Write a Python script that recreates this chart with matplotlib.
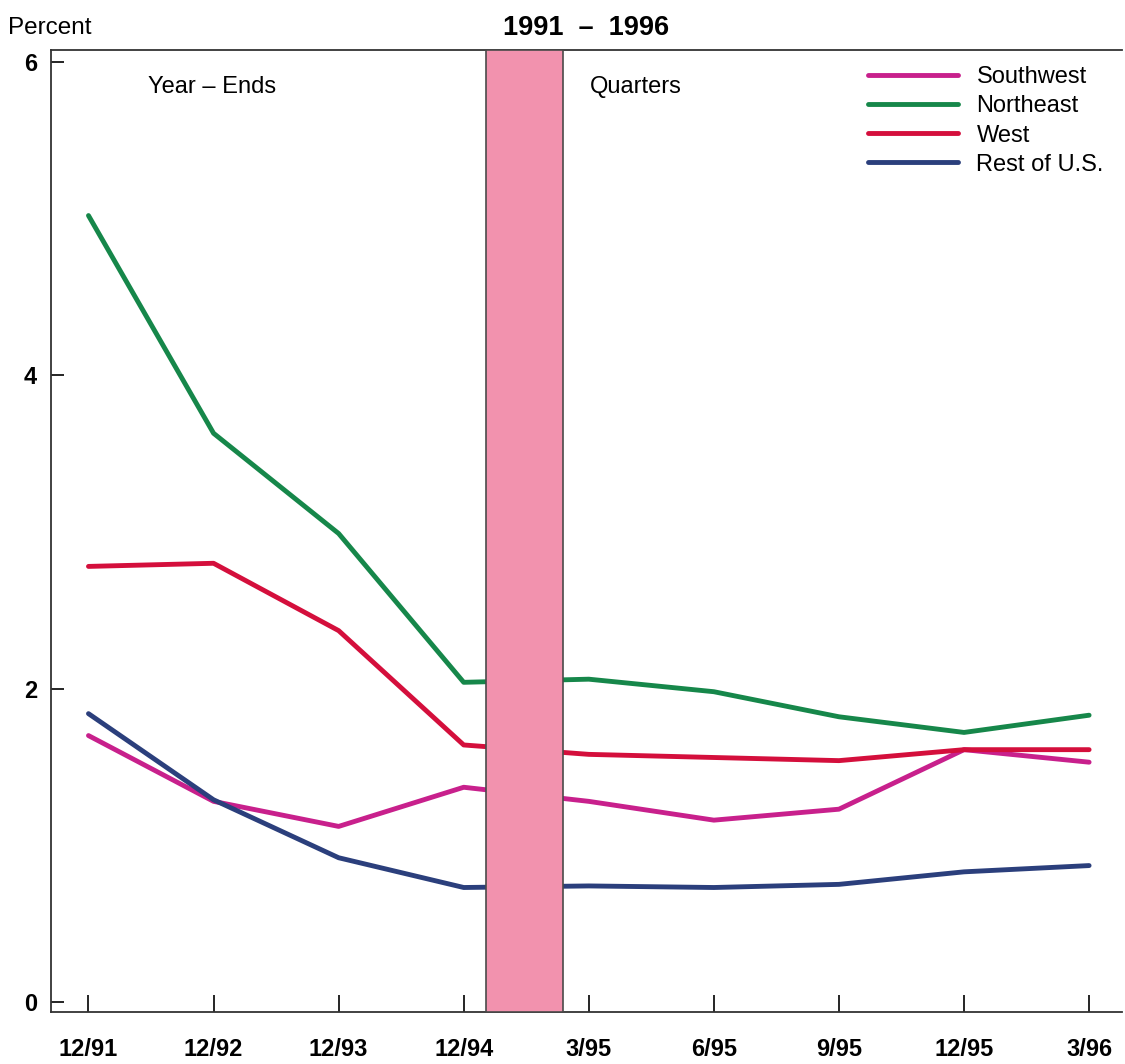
import matplotlib.pyplot as plt
import numpy as np

plt.rcParams['font.family'] = ['Liberation Sans', 'DejaVu Sans']

periods = ['12/91', '12/92', '12/93', '12/94', '3/95', '6/95', '9/95', '12/95', '3/96']
southwest = [1.70, 1.28, 1.12, 1.37, 1.28, 1.16, 1.23, 1.61, 1.53]
northeast = [5.02, 3.63, 2.99, 2.04, 2.06, 1.98, 1.82, 1.72, 1.83]
west = [2.78, 2.80, 2.37, 1.64, 1.58, 1.56, 1.54, 1.61, 1.61]
rest_us = [1.84, 1.29, 0.92, 0.73, 0.74, 0.73, 0.75, 0.83, 0.87]

series = [
    ('Southwest', southwest, '#c8208c'),
    ('Northeast', northeast, '#16874a'),
    ('West', west, '#d40f3c'),
    ('Rest of U.S.', rest_us, '#2b3f7c'),
]

x = np.arange(len(periods))

fig = plt.figure(figsize=(11.25, 10.64), dpi=100)
ax = fig.add_axes([0.0453, 0.049, 0.9517, 0.904])

for name, vals, col in series:
    ax.plot(x, vals, color=col, linewidth=3.5, label=name, solid_capstyle='round', zorder=2)

# break between year-end and quarterly data
ax.axvspan(3.18, 3.79, facecolor='#f292ae', edgecolor='#4a4a4a', linewidth=1.2, zorder=3)

ax.set_xlim(-0.3, 8.26)
ax.set_ylim(-0.064, 6.077)
ax.set_yticks([0, 2, 4, 6])
ax.set_xticks(x)
ax.set_xticklabels(periods, fontsize=17, fontweight='bold')
ax.tick_params(axis='x', direction='in', length=12, width=1.2, pad=19)
ax.tick_params(axis='y', direction='in', length=9, width=1.2, pad=10, labelsize=17)
for lab in ax.get_yticklabels():
    lab.set_fontweight('bold')
ax.spines['right'].set_visible(False)
for s in ['left', 'top', 'bottom']:
    ax.spines[s].set_linewidth(1.3)
    ax.spines[s].set_color('#333333')

fig.text(0.007, 0.974, 'Percent', fontsize=17.5, ha='left', va='center')
fig.text(0.521, 0.974, '1991  \u2013  1996', fontsize=19.5, fontweight='bold',
         ha='center', va='center')
ax.text(0.091, 0.9615, 'Year \u2013 Ends', transform=ax.transAxes, fontsize=17, ha='left', va='center')
ax.text(0.503, 0.9615, 'Quarters', transform=ax.transAxes, fontsize=17, ha='left', va='center')

ax.legend(loc='upper left', bbox_to_anchor=(0.763, 0.983), frameon=False, fontsize=17,
          handlelength=3.8, handletextpad=0.8, labelspacing=0.3, borderpad=0, borderaxespad=0)

fig.savefig('out.png', dpi=100)
